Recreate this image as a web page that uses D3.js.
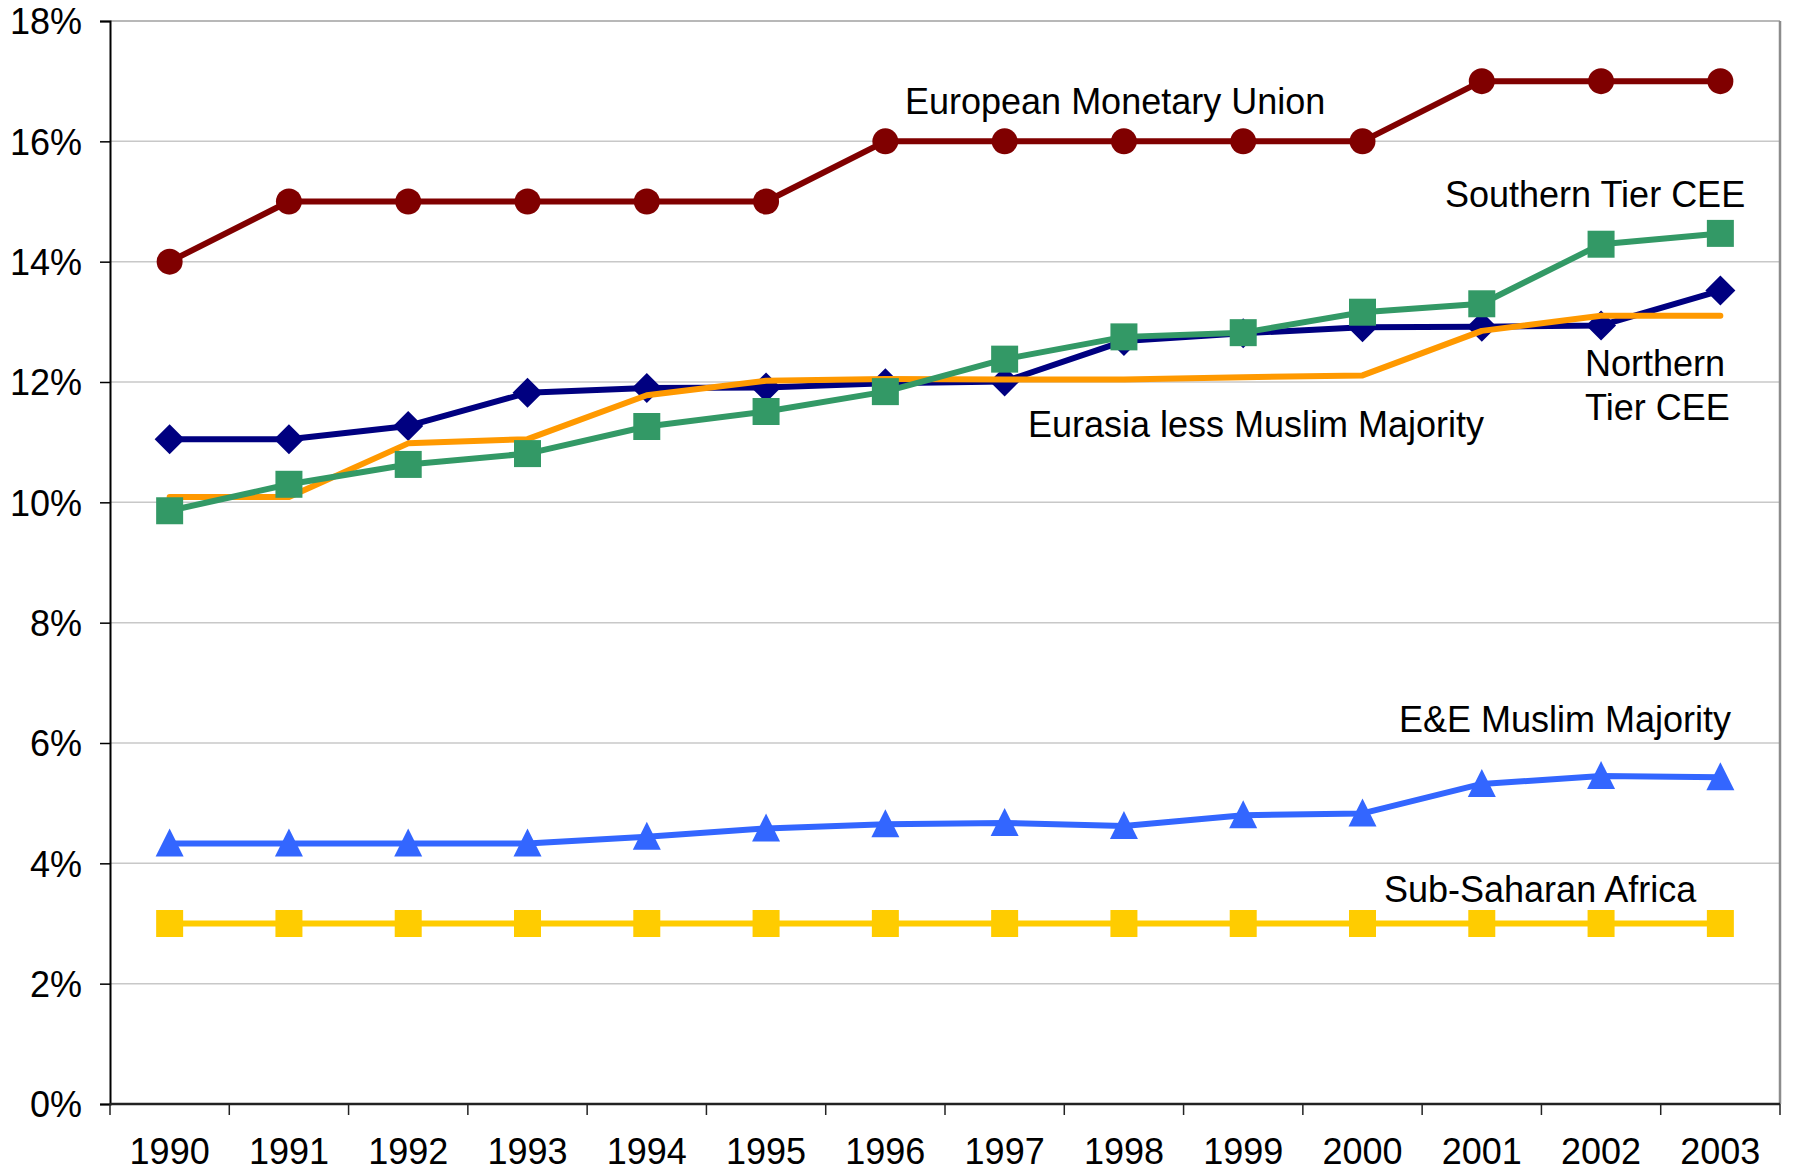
<!DOCTYPE html>
<html>
<head>
<meta charset="utf-8">
<script src="https://cdn.jsdelivr.net/npm/d3@7"></script>
<style>
  body { margin: 0; background: #fff; }
  svg { display: block; font-family: "Liberation Sans", Arial, sans-serif; }
</style>
</head>
<body>
<svg class="line-chart" width="1794" height="1173"></svg>
<script>
// chart data
const years = [1990, 1991, 1992, 1993, 1994, 1995, 1996, 1997, 1998, 1999, 2000, 2001, 2002, 2003];
const yTicks = [0, 2, 4, 6, 8, 10, 12, 14, 16, 18];

const emu = [14, 15, 15, 15, 15, 15, 16, 16, 16, 16, 16, 17, 17, 17];
const northernTier = [11.05, 11.05, 11.27, 11.82, 11.90, 11.91, 11.98, 12.01, 12.68, 12.81, 12.91, 12.92, 12.94, 13.52];
const southernTier = [9.86, 10.30, 10.63, 10.81, 11.26, 11.51, 11.84, 12.38, 12.75, 12.82, 13.16, 13.30, 14.29, 14.47];
const eurasiaLessMuslim = [10.09, 10.09, 10.98, 11.05, 11.78, 12.02, 12.05, 12.04, 12.04, 12.08, 12.11, 12.85, 13.10, 13.10];
const eeMuslim = [4.33, 4.33, 4.33, 4.33, 4.44, 4.58, 4.65, 4.67, 4.62, 4.80, 4.83, 5.32, 5.45, 5.43];
const subSaharan = [3, 3, 3, 3, 3, 3, 3, 3, 3, 3, 3, 3, 3, 3];

// drawing order: first is at the bottom
const series = [
  { name: 'Sub-Saharan Africa', values: subSaharan, color: '#FFCC00', marker: 'square' },
  { name: 'E&E Muslim Majority', values: eeMuslim, color: '#3366FF', marker: 'triangle' },
  { name: 'Northern Tier CEE', values: northernTier, color: '#000080', marker: 'diamond' },
  { name: 'Eurasia less Muslim Majority', values: eurasiaLessMuslim, color: '#FF9900', marker: 'none' },
  { name: 'Southern Tier CEE', values: southernTier, color: '#339966', marker: 'square' },
  { name: 'European Monetary Union', values: emu, color: '#800000', marker: 'circle' },
];

// text labels placed next to the lines (pixel layout)
const labels = [
  { lines: ['European Monetary Union'], x: 905, y: 114 },
  { lines: ['Southern Tier CEE'], x: 1445, y: 207 },
  { lines: ['Northern', 'Tier CEE'], x: 1585, y: 376 },
  { lines: ['Eurasia less Muslim Majority'], x: 1028, y: 437 },
  { lines: ['E&E Muslim Majority'], x: 1399, y: 732 },
  { lines: ['Sub-Saharan Africa'], x: 1384, y: 902 },
];

const margin = { top: 21, right: 14, bottom: 69, left: 110 };
const svg = d3.select('.line-chart');
const totalW = +svg.attr('width');
const totalH = +svg.attr('height');
const width = totalW - margin.left - margin.right;
const height = totalH - margin.top - margin.bottom;

const surface = svg.append('g')
  .attr('transform', `translate(${margin.left}, ${margin.top})`);

const x = d3.scaleBand().domain(years).range([0, width]);
const y = d3.scaleLinear().domain([0, 18]).range([height, 0]);
const cx = d => x(d) + x.bandwidth() / 2;

// gridlines
surface.append('g')
  .selectAll('line')
  .data(yTicks.filter(t => t > 0 && t < 18))
  .join('line')
  .attr('x1', 0)
  .attr('x2', width)
  .attr('y1', d => y(d))
  .attr('y2', d => y(d))
  .attr('stroke', '#c8c8c8')
  .attr('stroke-width', 1.5);

// plot area frame (top and right)
surface.append('line')
  .attr('x1', 0).attr('x2', width)
  .attr('y1', y(18)).attr('y2', y(18))
  .attr('stroke', '#a0a0a0')
  .attr('stroke-width', 1.5);
surface.append('line')
  .attr('x1', width).attr('x2', width)
  .attr('y1', y(18)).attr('y2', y(0))
  .attr('stroke', '#8c8c8c')
  .attr('stroke-width', 2.5);

// Y axis
const yAxis = surface.append('g')
  .call(d3.axisLeft(y).tickValues(yTicks).tickFormat(d => `${d}%`).tickSize(10).tickPadding(18));
yAxis.select('.domain').attr('stroke', '#000').attr('stroke-width', 2);
yAxis.selectAll('.tick line').attr('stroke', '#000').attr('stroke-width', 1.5);
yAxis.selectAll('.tick text')
  .attr('font-size', 36)
  .attr('font-family', '"Liberation Sans", Arial, sans-serif')
  .attr('fill', '#000')
  .attr('dy', '0.36em');

// X axis: labels at band centres, ticks at band edges
const xAxis = surface.append('g')
  .attr('transform', `translate(0, ${height})`)
  .call(d3.axisBottom(x).tickSize(0).tickPadding(34));
xAxis.select('.domain').remove();
xAxis.selectAll('.tick text')
  .attr('font-size', 36)
  .attr('font-family', '"Liberation Sans", Arial, sans-serif')
  .attr('fill', '#000');

const edges = years.map(d => x(d)).concat([width]);
xAxis.selectAll('line.edge')
  .data(edges)
  .join('line')
  .attr('class', 'edge')
  .attr('x1', d => d).attr('x2', d => d)
  .attr('y1', 0).attr('y2', 11)
  .attr('stroke', '#222')
  .attr('stroke-width', 1.5);
xAxis.append('line')
  .attr('x1', 0).attr('x2', width)
  .attr('y1', 0).attr('y2', 0)
  .attr('stroke', '#222')
  .attr('stroke-width', 2.5);

// markers
const markerPath = {
  circle: d3.symbol(d3.symbolCircle, Math.PI * 13 * 13),
  square: d3.symbol(d3.symbolSquare, 27 * 27),
  diamond: () => 'M0,-15L15,0L0,15L-15,0Z',
  triangle: () => 'M0,-15L14,13L-14,13Z',
};

const line = d3.line()
  .x((v, i) => cx(years[i]))
  .y(v => y(v));

series.forEach((s) => {
  const g = surface.append('g').attr('class', 'series');

  g.append('path')
    .datum(s.values)
    .attr('d', line)
    .attr('fill', 'none')
    .attr('stroke', s.color)
    .attr('stroke-width', 6)
    .attr('stroke-linejoin', 'round')
    .attr('stroke-linecap', s.marker === 'none' ? 'round' : 'butt');

  if (s.marker !== 'none') {
    g.selectAll('path.marker')
      .data(s.values)
      .join('path')
      .attr('class', 'marker')
      .attr('transform', (v, i) => `translate(${cx(years[i])}, ${y(v)})`)
      .attr('d', markerPath[s.marker])
      .attr('fill', s.color);
  }
});

// series labels
const labelG = svg.append('g')
  .attr('font-size', 36)
  .attr('fill', '#000');

labels.forEach((l) => {
  const t = labelG.append('text')
    .attr('x', l.x)
    .attr('y', l.y);
  l.lines.forEach((txt, i) => {
    t.append('tspan')
      .attr('x', l.x)
      .attr('dy', i === 0 ? 0 : 44)
      .text(txt);
  });
});
</script>
</body>
</html>
